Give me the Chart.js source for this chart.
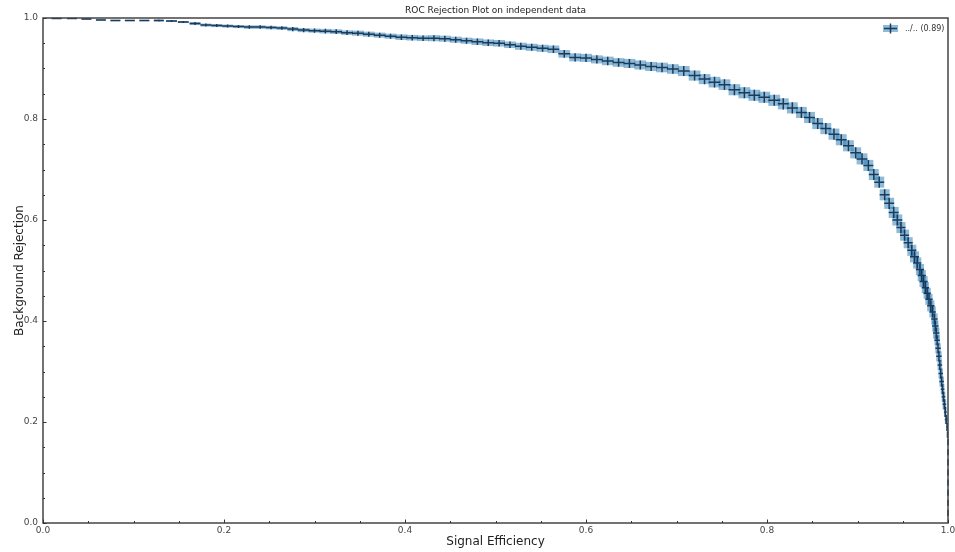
<!DOCTYPE html>
<html>
<head>
<meta charset="utf-8">
<script src="https://cdn.jsdelivr.net/npm/chart.js@4"></script>
<style>
    html, body { margin: 0; padding: 0; background: #fff; }
    #wrap { width: 955px; height: 552px; position: relative; }
</style>
</head>
<body>
<div id="wrap"><canvas id="roc"></canvas></div>
<script>
// Signal efficiency (x) of each point
const sigEff = [
    0.015, 0.032, 0.048, 0.064, 0.080, 0.096, 0.112, 0.128, 0.142, 0.155,
    0.168, 0.180, 0.192, 0.204, 0.216, 0.228, 0.240, 0.252, 0.264, 0.276,
    0.288, 0.300, 0.312, 0.324, 0.336, 0.348, 0.360, 0.372, 0.384, 0.396,
    0.408, 0.420, 0.432, 0.444, 0.456, 0.468, 0.480, 0.492, 0.504, 0.516,
    0.528, 0.540, 0.552, 0.564, 0.576, 0.588, 0.600, 0.612, 0.624, 0.636,
    0.648, 0.660, 0.672, 0.684, 0.696, 0.708, 0.720, 0.731, 0.742, 0.753,
    0.764, 0.775, 0.786, 0.797, 0.808, 0.818, 0.828, 0.838, 0.847, 0.856,
    0.865, 0.874, 0.882, 0.890, 0.898, 0.905, 0.912, 0.918, 0.924, 0.930,
    0.935, 0.940, 0.944, 0.948, 0.952, 0.956, 0.960, 0.963, 0.966, 0.969,
    0.971, 0.973, 0.975, 0.977, 0.979, 0.981, 0.983, 0.985, 0.986, 0.987,
    0.988, 0.989, 0.990, 0.991, 0.992, 0.993, 0.994, 0.995, 0.996, 0.997,
    0.998, 0.999, 0.9995, 1.000, 1.000, 1.000, 1.000, 1.000, 1.000, 1.000,
    1.000
];

// Background rejection (y) of each point
const bkgRej = [
    0.999, 0.999, 0.998, 0.996, 0.995, 0.995, 0.995, 0.995, 0.994, 0.992,
    0.989, 0.986, 0.985, 0.984, 0.983, 0.982, 0.982, 0.981, 0.980, 0.978,
    0.976, 0.975, 0.974, 0.973, 0.971, 0.970, 0.968, 0.966, 0.964, 0.962,
    0.961, 0.960, 0.960, 0.959, 0.957, 0.955, 0.953, 0.951, 0.950, 0.947,
    0.944, 0.942, 0.940, 0.938, 0.929, 0.922, 0.921, 0.918, 0.915, 0.912,
    0.910, 0.907, 0.904, 0.902, 0.899, 0.895, 0.886, 0.879, 0.873, 0.868,
    0.858, 0.852, 0.847, 0.843, 0.837, 0.830, 0.822, 0.813, 0.803, 0.791,
    0.781, 0.770, 0.759, 0.747, 0.733, 0.721, 0.708, 0.690, 0.675, 0.650,
    0.633, 0.615, 0.600, 0.585, 0.570, 0.555, 0.540, 0.527, 0.515, 0.502,
    0.490, 0.478, 0.466, 0.455, 0.443, 0.430, 0.418, 0.404, 0.390, 0.376,
    0.362, 0.346, 0.330, 0.313, 0.296, 0.280, 0.265, 0.250, 0.235, 0.220,
    0.205, 0.190, 0.175, 0.160, 0.140, 0.120, 0.100, 0.080, 0.060, 0.040,
    0.020
];

// Half-width of the x error bar
const sigErr = [
    0.0055, 0.0055, 0.0055, 0.0055, 0.0055, 0.0055, 0.0055, 0.0055, 0.006, 0.006,
    0.006, 0.006, 0.006, 0.006, 0.006, 0.006, 0.006, 0.006, 0.006, 0.006,
    0.0065, 0.0065, 0.0065, 0.0065, 0.0065, 0.0065, 0.0065, 0.0065, 0.0065, 0.0065,
    0.0065, 0.0065, 0.0065, 0.0065, 0.0065, 0.0065, 0.0065, 0.0065, 0.0065, 0.0065,
    0.0065, 0.0065, 0.0065, 0.0065, 0.0065, 0.0065, 0.0065, 0.0065, 0.0065, 0.0065,
    0.0065, 0.0065, 0.0065, 0.0065, 0.0065, 0.0065, 0.0065, 0.0065, 0.0065, 0.0065,
    0.0065, 0.0065, 0.0065, 0.0065, 0.0065, 0.006, 0.006, 0.006, 0.006, 0.006,
    0.006, 0.006, 0.006, 0.006, 0.006, 0.006, 0.0055, 0.0055, 0.0055, 0.0055,
    0.0055, 0.0055, 0.0055, 0.005, 0.005, 0.005, 0.005, 0.005, 0.0045, 0.0045,
    0.0045, 0.0045, 0.004, 0.004, 0.004, 0.004, 0.0035, 0.0035, 0.0035, 0.0035,
    0.003, 0.003, 0.003, 0.0025, 0.0025, 0.0025, 0.002, 0.002, 0.002, 0.0015,
    0.0015, 0.001, 0.0008, 0.0005, 0.0005, 0.0005, 0.0005, 0.0005, 0.0005, 0.0005,
    0.0005
];

// Half-height of the y error bar
const rejErr = [
    0.001, 0.001, 0.0015, 0.0015, 0.0015, 0.0015, 0.0015, 0.002, 0.002, 0.002,
    0.003, 0.003, 0.003, 0.003, 0.003, 0.0035, 0.0035, 0.0035, 0.0035, 0.004,
    0.004, 0.004, 0.0045, 0.0045, 0.0045, 0.005, 0.005, 0.005, 0.005, 0.0055,
    0.0055, 0.0055, 0.006, 0.006, 0.006, 0.006, 0.0065, 0.0065, 0.0065, 0.0065,
    0.007, 0.007, 0.007, 0.0075, 0.0075, 0.008, 0.008, 0.008, 0.0085, 0.0085,
    0.009, 0.009, 0.009, 0.0095, 0.0095, 0.01, 0.01, 0.01, 0.0105, 0.0105,
    0.011, 0.011, 0.011, 0.011, 0.011, 0.011, 0.011, 0.011, 0.011, 0.011,
    0.011, 0.011, 0.011, 0.011, 0.011, 0.011, 0.011, 0.011, 0.011, 0.011,
    0.011, 0.011, 0.011, 0.011, 0.011, 0.011, 0.011, 0.011, 0.011, 0.011,
    0.011, 0.011, 0.011, 0.011, 0.011, 0.011, 0.011, 0.011, 0.011, 0.011,
    0.01, 0.01, 0.01, 0.01, 0.01, 0.01, 0.01, 0.01, 0.01, 0.01,
    0.009, 0.008, 0.006, 0.006, 0.006, 0.006, 0.006, 0.006, 0.006, 0.006,
    0.006
];

const majorTicks = [0.0, 0.2, 0.4, 0.6, 0.8, 1.0];
const minorTicks = [0.05, 0.1, 0.15, 0.25, 0.3, 0.35, 0.45, 0.5, 0.55, 0.65, 0.7, 0.75, 0.85, 0.9, 0.95];

const legendLabel = '../.. (0.89)';
const chartTitle = 'ROC Rejection Plot on independent data';

const boxFill = 'rgba(31, 119, 180, 0.5)';
const crossColor = 'rgba(18, 48, 78, 0.92)';
const FONT = "'DejaVu Sans', sans-serif";

// Error boxes + crosses, ticks, frame, title and legend
const rocPlugin = {
    id: 'rocPlugin',
    afterDatasetsDraw(chart) {
        const { ctx, scales: { x, y } } = chart;
        ctx.save();
        // boxes first
        ctx.fillStyle = boxFill;
        sigEff.forEach((v, i) => {
            const x0 = x.getPixelForValue(v - sigErr[i]);
            const x1 = x.getPixelForValue(v + sigErr[i]);
            const y0 = y.getPixelForValue(bkgRej[i] + rejErr[i]);
            const y1 = y.getPixelForValue(bkgRej[i] - rejErr[i]);
            ctx.fillRect(x0, y0, x1 - x0, y1 - y0);
        });
        // then crosses
        ctx.strokeStyle = crossColor;
        ctx.lineWidth = 1.5;
        ctx.beginPath();
        sigEff.forEach((v, i) => {
            const px = x.getPixelForValue(v);
            const py = y.getPixelForValue(bkgRej[i]);
            ctx.moveTo(x.getPixelForValue(v - sigErr[i]), py);
            ctx.lineTo(x.getPixelForValue(v + sigErr[i]), py);
            ctx.moveTo(px, y.getPixelForValue(bkgRej[i] + rejErr[i]));
            ctx.lineTo(px, y.getPixelForValue(bkgRej[i] - rejErr[i]));
        });
        ctx.stroke();
        ctx.restore();
    },
    afterDraw(chart) {
        const { ctx, chartArea: a, scales: { x, y } } = chart;
        ctx.save();
        // frame
        ctx.strokeStyle = '#444';
        ctx.lineWidth = 1.5;
        ctx.strokeRect(a.left, a.top, a.right - a.left, a.bottom - a.top);

        // inward ticks on bottom and left
        ctx.lineWidth = 1;
        ctx.strokeStyle = '#333';
        ctx.beginPath();
        majorTicks.forEach(t => {
            const px = Math.round(x.getPixelForValue(t)) + 0.5;
            ctx.moveTo(px, a.bottom); ctx.lineTo(px, a.bottom - 3.5);
            const py = Math.round(y.getPixelForValue(t)) + 0.5;
            ctx.moveTo(a.left, py); ctx.lineTo(a.left + 3.5, py);
        });
        minorTicks.forEach(t => {
            const px = Math.round(x.getPixelForValue(t)) + 0.5;
            ctx.moveTo(px, a.bottom); ctx.lineTo(px, a.bottom - 2);
            const py = Math.round(y.getPixelForValue(t)) + 0.5;
            ctx.moveTo(a.left, py); ctx.lineTo(a.left + 2, py);
        });
        ctx.stroke();

        // title
        ctx.fillStyle = '#222';
        ctx.font = '9px ' + FONT;
        ctx.textAlign = 'center';
        ctx.textBaseline = 'middle';
        ctx.fillText(chartTitle, (a.left + a.right) / 2, 11);

        // legend
        const lx = 883, ly = 28.5;
        ctx.fillStyle = boxFill;
        ctx.fillRect(lx, ly - 3.5, 15, 7);
        ctx.strokeStyle = crossColor;
        ctx.lineWidth = 1.5;
        ctx.beginPath();
        ctx.moveTo(lx + 1, ly); ctx.lineTo(lx + 14, ly);
        ctx.moveTo(lx + 7.5, ly - 5); ctx.lineTo(lx + 7.5, ly + 5);
        ctx.stroke();
        ctx.fillStyle = '#333';
        ctx.font = '8px ' + FONT;
        ctx.textAlign = 'left';
        ctx.fillText(legendLabel, 905, ly);
        ctx.restore();
    }
};

const points = sigEff.map((v, i) => ({ x: v, y: bkgRej[i] }));

new Chart(document.getElementById('roc'), {
    type: 'scatter',
    data: {
        datasets: [{
            label: legendLabel,
            data: points,
            pointRadius: 0,
            showLine: false
        }]
    },
    options: {
        responsive: true,
        maintainAspectRatio: false,
        animation: false,
        layout: { padding: { top: 18, right: 7, left: 0, bottom: 0 } },
        plugins: {
            legend: { display: false },
            tooltip: { enabled: false },
            title: { display: false }
        },
        scales: {
            x: {
                type: 'linear',
                min: 0, max: 1,
                afterFit: (s) => { s.height = 29; s.paddingLeft = 0; s.paddingRight = 0; },
                afterBuildTicks: (s) => { s.ticks = majorTicks.map(v => ({ value: v })); },
                grid: { display: false, drawTicks: false },
                border: { display: false },
                ticks: {
                    autoSkip: false,
                    maxRotation: 0,
                    padding: 2,
                    color: '#444',
                    font: { family: FONT, size: 9 },
                    callback: (v) => v.toFixed(1)
                },
                title: {
                    display: true,
                    text: 'Signal Efficiency',
                    color: '#222',
                    font: { family: FONT, size: 12 },
                    padding: { top: 0, bottom: 3 }
                }
            },
            y: {
                type: 'linear',
                min: 0, max: 1,
                afterFit: (s) => { s.width = 43; s.paddingTop = 0; s.paddingBottom = 0; },
                afterBuildTicks: (s) => { s.ticks = majorTicks.map(v => ({ value: v })); },
                grid: { display: false, drawTicks: false },
                border: { display: false },
                ticks: {
                    autoSkip: false,
                    padding: 5,
                    color: '#444',
                    font: { family: FONT, size: 9 },
                    callback: (v) => v.toFixed(1)
                },
                title: {
                    display: true,
                    text: 'Background Rejection',
                    color: '#222',
                    font: { family: FONT, size: 12 },
                    padding: { top: 13, bottom: 0 }
                }
            }
        }
    },
    plugins: [rocPlugin]
});
</script>
</body>
</html>
